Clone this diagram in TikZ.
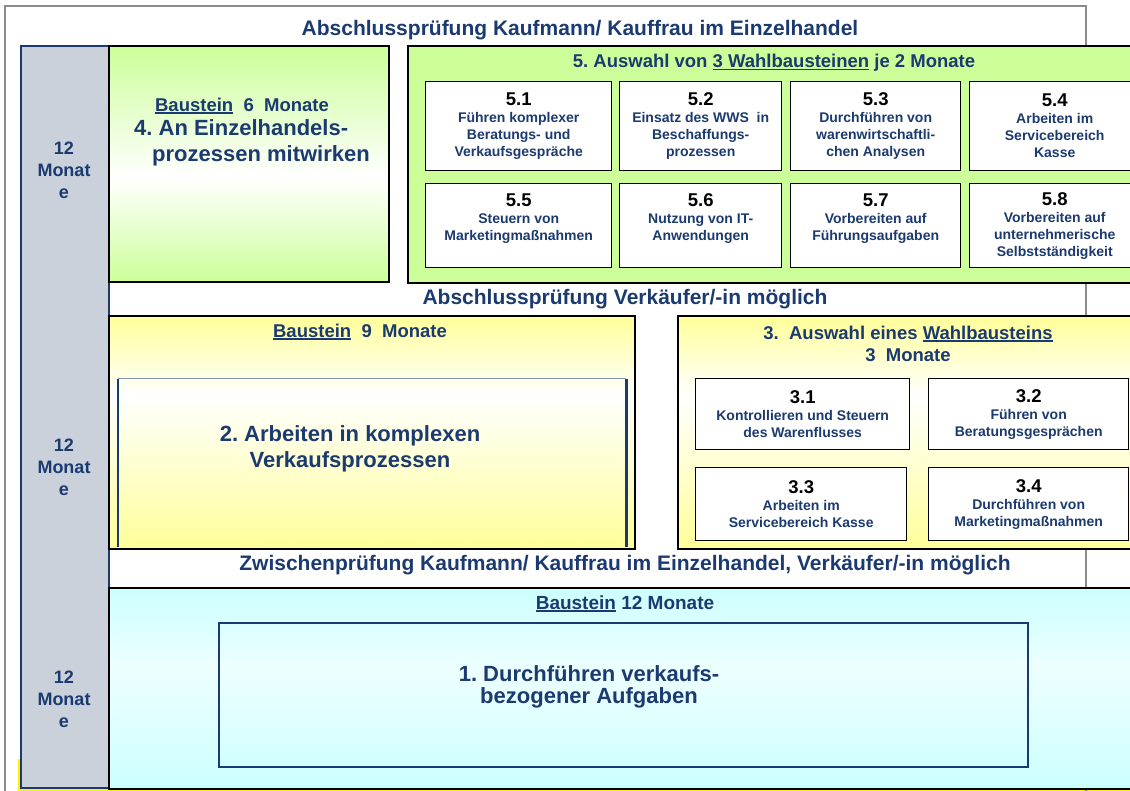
\documentclass[tikz,border=0pt]{standalone}
\usepackage{fontspec}
\setmainfont{Liberation Sans}
\usetikzlibrary{positioning}
\frenchspacing

\definecolor{navy}{HTML}{1B3A6F}
\definecolor{lgreen}{HTML}{CCFF99}
\definecolor{lyellow}{HTML}{FFFF99}
\definecolor{lcyan}{HTML}{CCFFFF}
\definecolor{cyanhell}{HTML}{EDFFFF}
\definecolor{colgray}{HTML}{CBD1DB}
\definecolor{framegray}{HTML}{8C8C8C}
\definecolor{paleblue}{HTML}{7F93B5}

\pgfdeclareverticalshading{greenband}{100bp}{color(0bp)=(lgreen); color(25bp)=(lgreen); color(47bp)=(white); color(75bp)=(lgreen); color(100bp)=(lgreen)}
\pgfdeclareverticalshading{yellowband}{100bp}{color(0bp)=(lyellow); color(25bp)=(lyellow); color(58bp)=(white); color(75bp)=(lyellow); color(100bp)=(lyellow)}
\pgfdeclareverticalshading{cyanband}{100bp}{color(0bp)=(lcyan); color(25bp)=(lcyan); color(55bp)=(cyanhell); color(75bp)=(lcyan); color(100bp)=(lcyan)}

\newcommand{\wnr}[1]{{\color{black}\fontsize{18.5}{18.5}\selectfont #1}}
\newcommand{\unterstr}[1]{\sbox0{#1}\rlap{\rule[-2.4pt]{\wd0}{1.6pt}}\usebox0}

\begin{document}
\begin{tikzpicture}[x=1pt, y=-1pt,
  every node/.style={inner sep=0pt, text=navy, font=\bfseries},
  block/.style={draw=black, line width=1.6pt, anchor=north west},
  wahl/.style={draw=black, line width=1.4pt, fill=white, anchor=north west, align=center, font=\bfseries\fontsize{14}{17}\selectfont},
  band/.style={font=\bfseries\fontsize{21}{24}\selectfont},
  head/.style={font=\bfseries\fontsize{18.5}{22}\selectfont, align=center},
  haupt/.style={font=\bfseries\fontsize{22}{25.5}\selectfont, align=left},
  monate/.style={font=\bfseries\fontsize{18}{22}\selectfont, align=center}]
  \useasboundingbox (0,0) rectangle (1130,791);
  \clip (0,0) rectangle (1130,791);
  \fill[yellow] (18,759) rectangle (1140,791); % Streifen unten
  \draw[framegray, line width=1.2pt] (5,6) rectangle (1086,820); % Rahmen
  \node[band] (titel) at (580,30) {Abschlussprüfung Kaufmann/ Kauffrau im Einzelhandel};

  % Zeitspalte links
  \node[draw=navy, line width=1.8pt, fill=colgray, anchor=north west, minimum width=88pt, minimum height=742pt] (spalte) at (20,45) {};
  \node[monate] (zeit3) at (64,170) {12\\Monat\\e};
  \node[monate] (zeit2) at (64,467) {12\\Monat\\e};
  \node[monate] (zeit1) at (64,699) {12\\Monat\\e};

  % Baustein 4
  \node[block, shading=greenband, minimum width=280pt, minimum height=236pt] (b4) at (108,45) {};
  \node[head] (b4kopf) at (242,106) {\unterstr{Baustein}~~6~~Monate};
  \node[haupt] (b4text) at (252,143) {4. An Einzelhandels-\\\hspace*{18pt}prozessen mitwirken};

  % Wahlbausteine 5
  \node[block, fill=lgreen, minimum width=743pt, minimum height=237pt] (b5) at (407,45) {};
  \node[head] (b5kopf) at (774,63) {5. Auswahl von \unterstr{3 Wahlbausteinen} je 2 Monate};
  \node[wahl, minimum width=186pt, minimum height=89pt] (w51) at (425,81) {\wnr{5.1}\\Führen komplexer\\Beratungs- und\\Verkaufsgespräche};
  \node[wahl, minimum width=162pt, minimum height=89pt] (w52) at (619,81) {\wnr{5.2}\\Einsatz des WWS~ in\\Beschaffungs-\\prozessen};
  \node[wahl, minimum width=170pt, minimum height=89pt] (w53) at (790,81) {\wnr{5.3}\\Durchführen von\\warenwirtschaftli-\\chen Analysen};
  \node[wahl, minimum width=170pt, minimum height=89pt] (w54) at (969,81) {\wnr{5.4}\\Arbeiten im\\Servicebereich\\Kasse};
  \node[wahl, minimum width=186pt, minimum height=84pt] (w55) at (425,183) {\wnr{5.5}\\Steuern von\\Marketingmaßnahmen\\\mbox{}};
  \node[wahl, minimum width=162pt, minimum height=84pt] (w56) at (619,183) {\wnr{5.6}\\Nutzung von IT-\\Anwendungen\\\mbox{}};
  \node[wahl, minimum width=170pt, minimum height=84pt] (w57) at (790,183) {\wnr{5.7}\\Vorbereiten auf\\Führungsaufgaben\\\mbox{}};
  \node[wahl, minimum width=170pt, minimum height=84pt] (w58) at (969,183) {\wnr{5.8}\\Vorbereiten auf\\unternehmerische\\Selbstständigkeit};

  \node[band] (verk) at (625,299) {Abschlussprüfung Verkäufer/-in möglich};

  % Baustein 2
  \node[block, shading=yellowband, minimum width=526pt, minimum height=233pt] (b2) at (108,315) {};
  \node[head] (b2kopf) at (360,332) {\unterstr{Baustein}~~9~~Monate};
  \node[anchor=north west, minimum width=508pt, minimum height=168pt] (b2innen) at (118,379) {};
  \draw[paleblue, line width=1pt] (b2innen.north west) -- (b2innen.north east);
  \draw[navy, line width=2.5pt] (b2innen.north west) -- (b2innen.south west);
  \draw[navy, line width=2.5pt] (b2innen.north east) -- (b2innen.south east);
  \node[haupt, align=center] (b2text) at (350,449) {2. Arbeiten in komplexen\\Verkaufsprozessen};

  % Wahlbausteine 3
  \node[block, shading=yellowband, minimum width=470pt, minimum height=233pt] (b3) at (677,315) {};
  \node[head] (b3kopf) at (908,344) {3.~~Auswahl eines \unterstr{Wahlbausteins}\\3~~Monate};
  \node[wahl, minimum width=214pt, minimum height=71pt] (w31) at (695,378) {\wnr{3.1}\\Kontrollieren und Steuern\\des Warenflusses};
  \node[wahl, minimum width=200pt, minimum height=71pt] (w32) at (928,378) {\wnr{3.2}\\Führen von\\Beratungsgesprächen};
  \node[wahl, minimum width=211pt, minimum height=73pt] (w33) at (695,467) {\wnr{3.3}\\Arbeiten im\\Servicebereich Kasse};
  \node[wahl, minimum width=200pt, minimum height=73pt] (w34) at (928,467) {\wnr{3.4}\\Durchführen von\\Marketingmaßnahmen};

  \node[band] (zwischen) at (625,565) {Zwischenprüfung Kaufmann/ Kauffrau im Einzelhandel, Verkäufer/-in möglich};

  % Baustein 1
  \node[block, shading=cyanband, minimum width=1042pt, minimum height=201pt] (b1) at (108,587) {};
  \node[head, font=\bfseries\fontsize{19}{22}\selectfont] (b1kopf) at (625,604) {\unterstr{Baustein} 12 Monate};
  \node[draw=navy, line width=1.5pt, anchor=north west, minimum width=809pt, minimum height=144pt] (b1innen) at (218,622) {};
  \node[haupt, align=center, font=\bfseries\fontsize{22}{22.6}\selectfont] (b1text) at (589,687) {1. Durchführen verkaufs-\\bezogener Aufgaben};
\end{tikzpicture}
\end{document}
